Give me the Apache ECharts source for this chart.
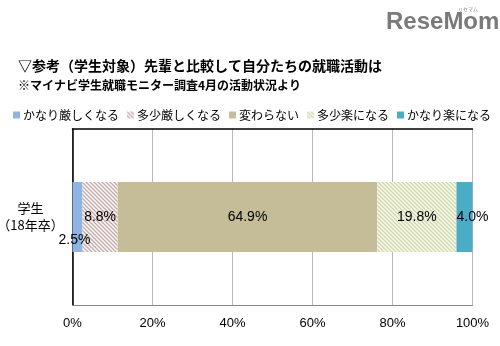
<!DOCTYPE html>
<html><head><meta charset="utf-8">
<script src="https://cdn.jsdelivr.net/npm/echarts@6/dist/echarts.min.js"></script>
<style>html,body{margin:0;padding:0;background:#fff}#c{width:500px;height:346px}</style>
</head><body><div id="c"></div>
<script>
const categories = ['学生\n（18年卒）'];
const seriesNames = ['かなり厳しくなる', '多少厳しくなる', '変わらない', '多少楽になる', 'かなり楽になる'];
const values = [2.5, 8.8, 64.9, 19.8, 4.0];
const xTicks = [0, 20, 40, 60, 80, 100];

function stripe(bg, fg) {
  const c = document.createElement('canvas');
  c.width = 4; c.height = 4;
  const g = c.getContext('2d');
  g.fillStyle = bg; g.fillRect(0, 0, 4, 4);
  g.strokeStyle = fg; g.lineWidth = 1.4;
  g.beginPath();
  g.moveTo(-1, -1); g.lineTo(5, 5);
  g.moveTo(-1, 3); g.lineTo(1, 5);
  g.moveTo(3, -1); g.lineTo(5, 1);
  g.stroke();
  return { image: c, repeat: 'repeat' };
}
const colors = ['#8eb4e3', stripe('#ffffff', '#c9a8a8'), '#c4bd97', stripe('#fbfbea', '#cfd8b2'), '#4bacc6'];
const labelOffsets = [[-3, 23], [0, 0], [0, 0], [0, 0], [8, 0]];

const chart = echarts.init(document.getElementById('c'), null, { renderer: 'canvas' });
const font = '"Noto Sans CJK JP", sans-serif';
chart.setOption({
  animation: false,
  textStyle: { fontFamily: font },
  title: {
    left: 13, top: 54,
    text: '▽参考（学生対象）先輩と比較して自分たちの就職活動は',
    subtext: '※マイナビ学生就職モニター調査4月の活動状況より',
    itemGap: 6,
    textStyle: { fontSize: 14, fontWeight: 'bold', color: '#000', fontFamily: font },
    subtextStyle: { fontSize: 12, fontWeight: 'bold', color: '#000', fontFamily: font }
  },
  graphic: [
    { type: 'text', left: 386, top: 10, style: { text: 'ReseMom', fontSize: 24, fontWeight: 'bold', fill: '#7a7a7a', fontFamily: 'Arial, sans-serif' } },
    { type: 'text', left: 458, top: 7, style: { text: 'リセマム', fontSize: 5, fill: '#888', fontFamily: font } }
  ],
  legend: {
    left: 8, top: 104,
    itemWidth: 7, itemHeight: 7, itemGap: 8,
    icon: 'rect',
    textStyle: { fontSize: 12, color: '#000', padding: [0, 0, 0, -2] },
    data: seriesNames
  },
  grid: { left: 72.5, right: 27.5, top: 129, bottom: 41, containLabel: false, outerBoundsMode: 'none' },
  xAxis: [{
    type: 'value', min: xTicks[0], max: xTicks[xTicks.length - 1], interval: 20,
    axisLine: { show: true, lineStyle: { color: '#868686' } },
    axisTick: { show: false },
    splitLine: { lineStyle: { color: '#b8b8b8' } },
    axisLabel: { formatter: '{value}%', fontSize: 13, color: '#000', margin: 12, fontFamily: 'Arial, sans-serif' }
  }, {
    type: 'value', position: 'top', min: 0, max: 100,
    axisLine: { show: true, lineStyle: { color: '#000', width: 1.5 } },
    axisTick: { show: false }, axisLabel: { show: false }, splitLine: { show: false }
  }],
  yAxis: [{
    type: 'category', data: categories,
    axisLine: { lineStyle: { color: '#868686' } },
    axisTick: { show: false },
    axisLabel: { fontSize: 13, color: '#000', lineHeight: 17, align: 'center', margin: 42 }
  }, {
    type: 'category', data: categories, position: 'right',
    axisLine: { show: true, lineStyle: { color: '#000', width: 1.5 } },
    axisTick: { show: false }, axisLabel: { show: false }
  }],
  series: seriesNames.map((n, i) => ({
    name: n, type: 'bar', stack: 'all', barWidth: 70,
    data: [values[i]],
    itemStyle: { color: colors[i] },
    label: {
      show: true, position: 'inside', offset: labelOffsets[i],
      formatter: p => p.value.toFixed(1) + '%',
      fontSize: 14, color: '#000', fontFamily: 'Arial, sans-serif'
    }
  }))
});
</script></body></html>
